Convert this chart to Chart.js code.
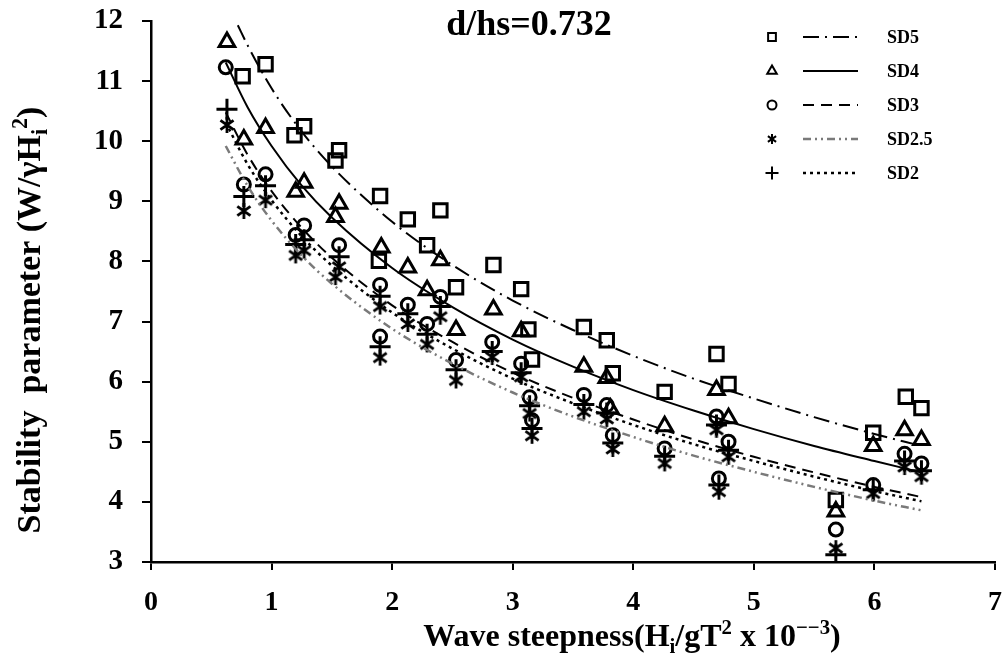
<!DOCTYPE html>
<html>
<head>
<meta charset="utf-8">
<script src="https://cdn.jsdelivr.net/npm/chart.js@4.4.1/dist/chart.umd.min.js"></script>
<style>
  body { margin: 0; background: #fff; }
</style>
</head>
<body>
<canvas id="chart" width="1002" height="663"></canvas>
<script>
// data dibaca dari gambar asal
const chartTitle = "d/hs=0.732";
const seriesNames = ["SD5", "SD4", "SD3", "SD2.5", "SD2"];
const xTickLabels = [0, 1, 2, 3, 4, 5, 6, 7];
const yTickLabels = [3, 4, 5, 6, 7, 8, 9, 10, 11, 12];

// titik ujikaji
const sd5X = [0.76, 0.95, 1.19, 1.27, 1.53, 1.56, 1.90, 1.89, 2.13, 2.29, 2.40, 2.53, 2.84, 3.07, 3.13, 3.16, 3.59, 3.78, 3.83, 4.26, 4.69, 4.79, 5.68, 5.99, 6.26, 6.39];
const sd5Y = [11.08, 11.28, 10.10, 10.25, 9.68, 9.85, 9.09, 8.01, 8.70, 8.27, 8.85, 7.57, 7.94, 7.54, 6.87, 6.37, 6.91, 6.69, 6.14, 5.83, 6.46, 5.96, 4.03, 5.15, 5.75, 5.56];

const sd4X = [0.63, 0.77, 0.95, 1.20, 1.27, 1.53, 1.56, 1.91, 2.13, 2.29, 2.40, 2.53, 2.84, 3.07, 3.59, 3.78, 3.81, 4.26, 4.69, 4.79, 5.68, 5.99, 6.25, 6.39];
const sd4Y = [11.65, 10.03, 10.22, 9.16, 9.31, 8.74, 8.96, 8.23, 7.90, 7.52, 8.02, 6.86, 7.20, 6.84, 6.25, 6.06, 5.55, 5.26, 5.86, 5.39, 3.84, 4.93, 5.19, 5.03];

const sd3X = [0.62, 0.77, 0.95, 1.20, 1.27, 1.56, 1.90, 1.90, 2.13, 2.29, 2.40, 2.53, 2.83, 3.07, 3.14, 3.16, 3.59, 3.78, 3.83, 4.26, 4.69, 4.79, 4.71, 5.68, 5.99, 6.25, 6.39];
const sd3Y = [11.23, 9.28, 9.45, 8.44, 8.60, 8.27, 7.61, 6.75, 7.28, 6.96, 7.41, 6.36, 6.66, 6.30, 5.74, 5.36, 5.78, 5.61, 5.11, 4.89, 5.42, 5.00, 4.39, 3.54, 4.28, 4.80, 4.64];

const sd25X = [0.63, 0.77, 0.95, 1.20, 1.27, 1.53, 1.56, 1.90, 1.90, 2.13, 2.29, 2.40, 2.53, 2.83, 3.07, 3.14, 3.16, 3.59, 3.78, 3.83, 4.26, 4.69, 4.79, 4.71, 5.68, 5.99, 6.25, 6.39];
const sd25Y = [10.27, 8.84, 9.02, 8.10, 8.18, 7.74, 7.91, 7.25, 6.40, 6.96, 6.62, 7.08, 6.02, 6.41, 6.08, 5.47, 5.10, 5.50, 5.38, 4.88, 4.64, 5.20, 4.75, 4.17, 3.23, 4.14, 4.58, 4.42];

const sd2X = [0.63, 0.77, 0.95, 1.20, 1.27, 1.56, 1.90, 1.90, 2.13, 2.29, 2.40, 2.53, 2.83, 3.07, 3.14, 3.16, 3.59, 3.78, 3.83, 4.26, 4.69, 4.79, 4.71, 5.68, 5.99, 6.25, 6.39];
const sd2Y = [10.53, 9.08, 9.26, 8.28, 8.36, 8.08, 7.42, 6.58, 7.13, 6.79, 7.25, 6.20, 6.50, 6.15, 5.60, 5.22, 5.62, 5.48, 4.98, 4.76, 5.28, 4.86, 4.28, 3.12, 4.20, 4.68, 4.52];

// garis trend (dibaca sepanjang lengkung)
const curveX = [0.62, 0.8, 1, 1.25, 1.5, 2, 2.5, 3, 3.5, 4, 4.5, 5, 5.5, 6, 6.39];
const curve5X = [0.72, 0.8, 1, 1.25, 1.5, 2, 2.5, 3, 3.5, 4, 4.5, 5, 5.5, 6, 6.39];
const fit5 = [11.93, 11.60, 10.88, 10.16, 9.58, 8.66, 7.94, 7.35, 6.86, 6.43, 6.05, 5.72, 5.41, 5.13, 4.93];
const fit4 = [11.31, 10.57, 9.92, 9.26, 8.73, 7.89, 7.24, 6.70, 6.25, 5.86, 5.52, 5.21, 4.93, 4.68, 4.49];
const fit3 = [10.48, 9.78, 9.17, 8.56, 8.06, 7.27, 6.66, 6.15, 5.73, 5.37, 5.04, 4.75, 4.49, 4.25, 4.08];
const fit25 = [9.92, 9.26, 8.68, 8.10, 7.63, 6.88, 6.30, 5.82, 5.42, 5.08, 4.77, 4.50, 4.25, 4.02, 3.86];
const fit2 = [10.31, 9.62, 9.02, 8.42, 7.93, 7.15, 6.55, 6.05, 5.64, 5.28, 4.96, 4.68, 4.42, 4.18, 4.01];

const FONT = '"Liberation Serif", "Times New Roman", serif';

function pts(xs, ys) {
  return xs.map((x, i) => ({ x: x, y: ys[i] }));
}

// bintang: X dengan garis tegak
function makeStar(size, lw) {
  const c = document.createElement("canvas");
  c.width = size; c.height = size;
  const g = c.getContext("2d");
  const m = size / 2, r = size / 2 - 1;
  g.strokeStyle = "#000";
  g.lineWidth = lw;
  g.beginPath();
  [90, 35, 145].forEach(a => {
    const rad = a * Math.PI / 180;
    g.moveTo(m - Math.cos(rad) * r, m - Math.sin(rad) * r);
    g.lineTo(m + Math.cos(rad) * r, m + Math.sin(rad) * r);
  });
  g.stroke();
  return c;
}
const starBig = makeStar(18, 2.8);
const starSmall = makeStar(12, 2);

const styles = [
  { pt: "rect", r: 9.5, dash: [16, 6, 2, 6], color: "#000", lw: 2, small: "rect" },
  { pt: "triangle", r: 9, dash: [], color: "#000", lw: 2, small: "triangle" },
  { pt: "circle", r: 6.5, dash: [11, 7], color: "#000", lw: 2, small: "circle" },
  { pt: starBig, r: 7, dash: [8, 4, 2, 4, 2, 4], color: "#7a7a7a", lw: 2.5, small: starSmall },
  { pt: "cross", r: 10.5, dash: [3, 4], color: "#000", lw: 2.5, small: "cross" }
];

const scatterSets = [pts(sd5X, sd5Y), pts(sd4X, sd4Y), pts(sd3X, sd3Y), pts(sd25X, sd25Y), pts(sd2X, sd2Y)];
const fitSets = [pts(curve5X, fit5), pts(curveX, fit4), pts(curveX, fit3), pts(curveX, fit25), pts(curveX, fit2)];

const datasets = [];
fitSets.forEach((d, i) => {
  datasets.push({
    label: seriesNames[i] + " fit",
    data: d,
    showLine: true,
    borderColor: styles[i].color,
    borderWidth: styles[i].lw,
    borderDash: styles[i].dash,
    pointRadius: 0,
    cubicInterpolationMode: "monotone",
    fill: false
  });
});
scatterSets.forEach((d, i) => {
  datasets.push({
    label: seriesNames[i],
    data: d,
    showLine: false,
    pointStyle: styles[i].pt,
    pointRadius: styles[i].r,
    pointBorderWidth: 3,
    pointBorderColor: "#000",
    pointBackgroundColor: "rgba(0,0,0,0)"
  });
});

// tulis teks dengan subskrip / superskrip
function richWidth(ctx, parts, size) {
  let w = 0;
  parts.forEach(p => {
    ctx.font = "bold " + (p.s ? size * 0.65 : size) + "px " + FONT;
    w += ctx.measureText(p.t).width;
  });
  return w;
}
function drawRich(ctx, parts, cx, y, size) {
  let x = cx - richWidth(ctx, parts, size) / 2;
  ctx.textAlign = "left";
  ctx.textBaseline = "alphabetic";
  parts.forEach(p => {
    ctx.font = "bold " + (p.s ? size * 0.65 : size) + "px " + FONT;
    let dy = 0;
    if (p.s === "sub") dy = size * 0.22;
    if (p.s === "sup") dy = -size * 0.38;
    ctx.fillText(p.t, x, y + dy);
    x += ctx.measureText(p.t).width;
  });
}

const xTitle = [
  { t: "Wave steepness(H" }, { t: "i", s: "sub" }, { t: "/gT" }, { t: "2", s: "sup" },
  { t: " x 10" }, { t: "\u2212\u22123", s: "sup" }, { t: ")" }
];
const yTitle = [
  { t: "Stability  parameter (W/\u03b3H" }, { t: "i", s: "sub" }, { t: "2", s: "sup" }, { t: ")" }
];

const teksPlugin = {
  id: "teks",
  afterDraw(chart) {
    const ctx = chart.ctx;
    ctx.save();
    ctx.fillStyle = "#000";
    ctx.font = "bold 36px " + FONT;
    ctx.textAlign = "center";
    ctx.textBaseline = "alphabetic";
    ctx.fillText(chartTitle, 529, 35);

    drawRich(ctx, xTitle, 632, 646, 32);

    ctx.save();
    ctx.translate(40, 320);
    ctx.rotate(-Math.PI / 2);
    drawRich(ctx, yTitle, 0, 0, 34);
    ctx.restore();

    // legenda
    seriesNames.forEach((name, i) => {
      const y = 37 + 34 * i;
      const st = styles[i];
      ctx.strokeStyle = "#000";
      ctx.fillStyle = "rgba(0,0,0,0)";
      ctx.lineWidth = 2;
      ctx.setLineDash([]);
      if (typeof st.small === "string") {
        Chart.helpers.drawPoint(ctx, {
          pointStyle: st.small,
          radius: st.small === "cross" ? 6.5 : (st.small === "circle" ? 4.5 : 5.5),
          borderWidth: 2,
          rotation: 0
        }, 772, y);
      } else {
        ctx.drawImage(st.small, 772 - 6, y - 6);
      }
      ctx.beginPath();
      ctx.strokeStyle = st.color;
      ctx.lineWidth = st.lw;
      ctx.setLineDash(st.dash);
      ctx.moveTo(803, y);
      ctx.lineTo(858, y);
      ctx.stroke();
      ctx.setLineDash([]);
      ctx.fillStyle = "#000";
      ctx.font = "bold 18px " + FONT;
      ctx.textAlign = "left";
      ctx.textBaseline = "middle";
      ctx.fillText(name, 887, y + 1);
    });
    ctx.restore();
  }
};

new Chart(document.getElementById("chart"), {
  type: "scatter",
  data: { datasets: datasets },
  options: {
    responsive: false,
    animation: false,
    layout: { autoPadding: false, padding: { top: 21, right: 7, left: 0, bottom: 0 } },
    plugins: {
      legend: { display: false },
      tooltip: { enabled: false }
    },
    scales: {
      x: {
        type: "linear",
        min: 0,
        max: 7,
        afterFit: s => { s.height = 101; s.paddingLeft = 0; s.paddingRight = 0; },
        afterBuildTicks: s => { s.ticks = xTickLabels.map(v => ({ value: v })); },
        border: { color: "#000", width: 2.5 },
        grid: { drawOnChartArea: false, color: "#000", lineWidth: 2, tickLength: 8 },
        ticks: {
          color: "#000",
          padding: 16,
          maxRotation: 0,
          font: { family: FONT, size: 28, weight: "bold" }
        }
      },
      y: {
        type: "linear",
        min: 3,
        max: 12,
        afterFit: s => { s.width = 151; s.paddingTop = 0; s.paddingBottom = 0; },
        afterBuildTicks: s => { s.ticks = yTickLabels.map(v => ({ value: v })); },
        border: { color: "#000", width: 2.5 },
        grid: { drawOnChartArea: false, color: "#000", lineWidth: 2, tickLength: 9 },
        ticks: {
          color: "#000",
          padding: 19,
          font: { family: FONT, size: 29, weight: "bold" }
        }
      }
    }
  },
  plugins: [teksPlugin]
});
</script>
</body>
</html>
